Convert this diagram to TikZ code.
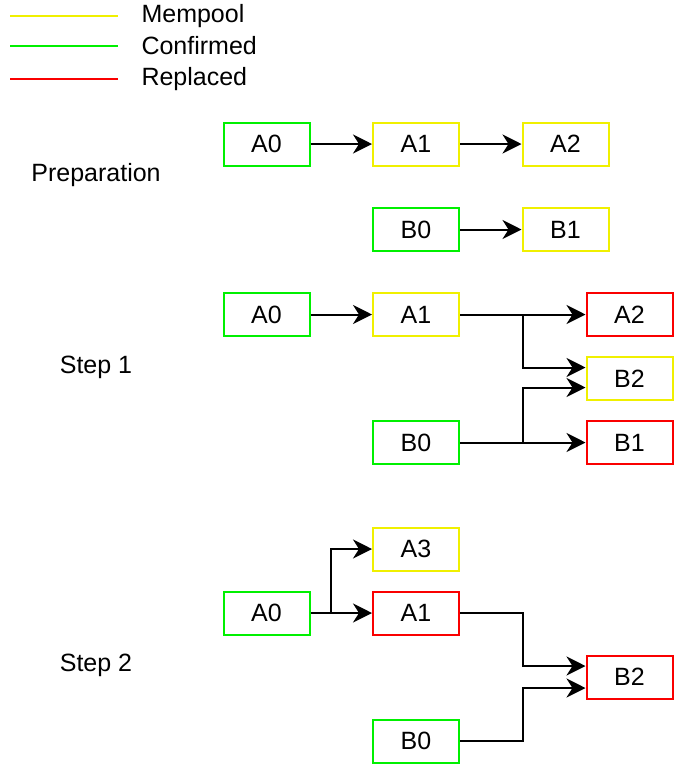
\documentclass[tikz,border=0pt]{standalone}
\usepackage{fontspec}
\setmainfont{Liberation Sans}
\usetikzlibrary{arrows.meta}
\definecolor{mempool}{RGB}{240,240,0}
\definecolor{confirmed}{RGB}{0,240,0}
\definecolor{replaced}{RGB}{250,0,0}
\begin{document}
\begin{tikzpicture}[x=1pt, y=-1pt,
  tx/.style={draw, line width=2pt, minimum width=86pt, minimum height=43pt, inner sep=0pt, font=\fontsize{25}{29}\selectfont},
  conf/.style={tx, draw=confirmed},
  mem/.style={tx, draw=mempool},
  repl/.style={tx, draw=replaced},
  arr/.style={line width=2pt, -{Stealth[length=19pt, width=19pt, inset=6pt]}},
  lbl/.style={font=\fontsize{25}{29}\selectfont}]
\useasboundingbox (0,0) rectangle (676,764);
%legend
\draw[mempool, line width=2pt] (10,16) -- (118,16);
\draw[confirmed, line width=2pt] (10,46) -- (118,46);
\draw[replaced, line width=2pt] (10,79) -- (118,79);
\node[lbl, anchor=west] (lmem) at (138,16) {Mempool};
\node[lbl, anchor=west] (lconf) at (138,46) {Confirmed};
\node[lbl, anchor=west] (lrepl) at (138,79) {Replaced};
%Preparation
\node[lbl] (prep) at (96,175) {Preparation};
\node[conf] (pa0) at (266.5,144) {A0};
\node[mem] (pa1) at (416,144) {A1};
\node[mem] (pa2) at (565.5,144) {A2};
\node[conf] (pb0) at (416,229.5) {B0};
\node[mem] (pb1) at (565.5,229.5) {B1};
\draw[arr] (pa0) -- (pa1);
\draw[arr] (pa1) -- (pa2);
\draw[arr] (pb0) -- (pb1);
%Step 1
\node[lbl] (step1) at (96,367) {Step 1};
\node[conf] (sa0) at (266.5,314.5) {A0};
\node[mem] (sa1) at (416,314.5) {A1};
\node[repl] (sa2) at (629.5,314.5) {A2};
\node[mem] (sb2) at (629.5,378.5) {B2};
\node[conf] (sb0) at (416,442.5) {B0};
\node[repl] (sb1) at (629.5,442.5) {B1};
\coordinate (sj) at (523,0);
\draw[arr] (sa0) -- (sa1);
\draw[arr] (sa1) -- (sa2);
\draw[arr] (sj |- sa1) |- ([yshift=11pt]sb2.west);
\draw[arr] (sb0) -- (sb1);
\draw[arr] (sj |- sb0) |- ([yshift=-9pt]sb2.west);
%Step 2
\node[lbl] (step2) at (96,665) {Step 2};
\node[mem] (ta3) at (416,549) {A3};
\node[conf] (ta0) at (266.5,613) {A0};
\node[repl] (ta1) at (416,613) {A1};
\node[repl] (tb2) at (629.5,677) {B2};
\node[conf] (tb0) at (416,741) {B0};
\coordinate (tj) at (331,0);
\coordinate (tk) at (523,0);
\coordinate (tin1) at ([yshift=11pt]tb2.west);
\coordinate (tin2) at ([yshift=-11pt]tb2.west);
\draw[arr] (ta0) -- (ta1);
\draw[arr] (tj |- ta0) |- (ta3);
\draw[arr] (ta1) -| (tk |- tin1) -- (tin1);
\draw[arr] (tb0) -| (tk |- tin2) -- (tin2);
\end{tikzpicture}
\end{document}
